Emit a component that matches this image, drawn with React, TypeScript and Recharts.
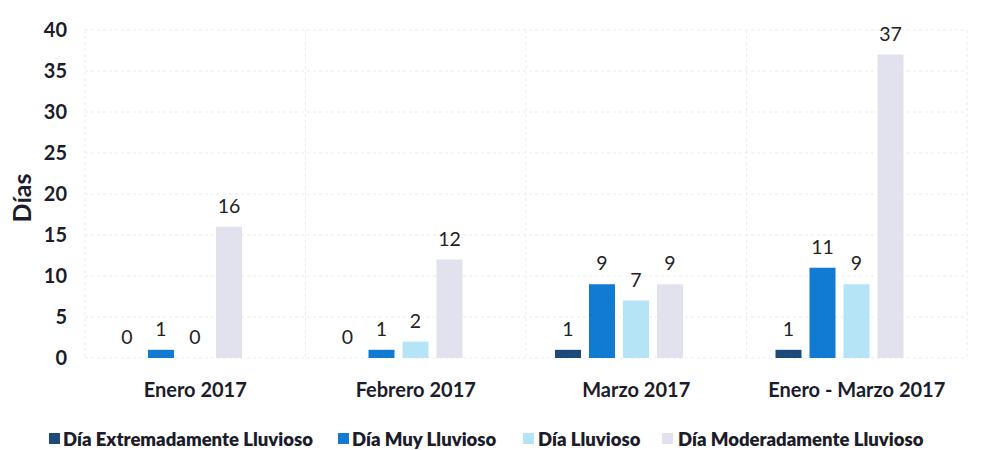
import React from 'react';
import { BarChart, Bar, XAxis, YAxis, CartesianGrid, LabelList, Label } from 'recharts';

const categories = ['Enero 2017', 'Febrero 2017', 'Marzo 2017', 'Enero - Marzo 2017'];
const extremadamente = [0, 0, 1, 1];
const muyLluvioso = [1, 1, 9, 11];
const lluvioso = [0, 2, 7, 9];
const moderadamente = [16, 12, 9, 37];
const yTicks = [0, 5, 10, 15, 20, 25, 30, 35, 40];

const series = [
  { key: 'extremadamente', name: 'Día Extremadamente Lluvioso', color: '#1d4a76', values: extremadamente },
  { key: 'muy', name: 'Día Muy Lluvioso', color: '#117bd3', values: muyLluvioso },
  { key: 'lluvioso', name: 'Día Lluvioso', color: '#b6e4f7', values: lluvioso },
  { key: 'moderadamente', name: 'Día Moderadamente Lluvioso', color: '#e2e2ee', values: moderadamente },
];

// legend layout (x positions of the swatches and labels)
const legendSwatchX = [49, 338, 523, 662];
const legendTextX = [63, 352, 538, 678];

const data = categories.map((c, i) => {
  const row: Record<string, string | number> = { categoria: c };
  series.forEach((s) => {
    row[s.key] = s.values[i];
  });
  return row;
});

const FONT = 'Lato, "Open Sans", sans-serif';
const TEXT = '#1c1c2a';

const renderValue = (props: any) => {
  const { x, y, width, value } = props;
  if (x == null || y == null || value == null) return null;
  return (
    <text
      x={Number(x) + Number(width) / 2}
      y={Number(y) - 14}
      textAnchor="middle"
      fill="#222"
      fontSize={19.5}
      fontFamily={FONT}
    >
      {value}
    </text>
  );
};

const Legend = () => (
  <svg width={989} height={40} style={{ position: 'absolute', left: 0, top: 418 }}>
    {series.map((s, i) => (
      <g key={s.key}>
        <rect x={legendSwatchX[i]} y={15} width={11} height={11} fill={s.color} />
        <text
          x={legendTextX[i]}
          y={20.5}
          dominantBaseline="central"
          fill={TEXT}
          fontSize={18.5}
          fontWeight={800}
          fontFamily={FONT}
        >
          {s.name}
        </text>
      </g>
    ))}
  </svg>
);

export default function App() {
  return (
    <div style={{ position: 'absolute', left: 0, top: 0, width: 989, height: 450, background: '#fff' }}>
      <BarChart
        width={989}
        height={450}
        data={data}
        margin={{ top: 30, right: 22, left: 0, bottom: 52 }}
        barSize={26}
        barGap={8}
      >
        <CartesianGrid
          stroke="#ececec"
          strokeDasharray="3 3"
          verticalCoordinatesGenerator={({ offset }: any) =>
            [0, 1, 2, 3, 4].map((i) => offset.left + (i * offset.width) / categories.length)
          }
        />
        <XAxis
          dataKey="categoria"
          axisLine={false}
          tickLine={false}
          tickSize={0}
          tickMargin={25}
          height={40}
          interval={0}
          tick={{ fill: TEXT, fontSize: 20, fontWeight: 700, fontFamily: FONT }}
        />
        <YAxis
          domain={[0, 40]}
          ticks={yTicks}
          axisLine={false}
          tickLine={false}
          tickSize={0}
          tickMargin={18}
          width={85}
          tick={{ fill: TEXT, fontSize: 20, fontWeight: 700, fontFamily: FONT }}
        >
          <Label
            content={({ viewBox }: any) => {
              const x = viewBox.x + 21;
              const y = viewBox.y + viewBox.height / 2 + 4;
              return (
                <text
                  x={x}
                  y={y}
                  transform={`rotate(-90, ${x}, ${y})`}
                  textAnchor="middle"
                  dominantBaseline="central"
                  fill={TEXT}
                  fontSize={25}
                  fontWeight={700}
                  fontFamily={FONT}
                >
                  Días
                </text>
              );
            }}
          />
        </YAxis>
        {series.map((s) => (
          <Bar
            key={s.key}
            dataKey={s.key}
            name={s.name}
            fill={s.color}
            minPointSize={0.01}
            isAnimationActive={false}
          >
            <LabelList dataKey={s.key} content={renderValue} />
          </Bar>
        ))}
        <Bar dataKey="relleno" fill="none" legendType="none" isAnimationActive={false} />
      </BarChart>
      <Legend />
    </div>
  );
}
